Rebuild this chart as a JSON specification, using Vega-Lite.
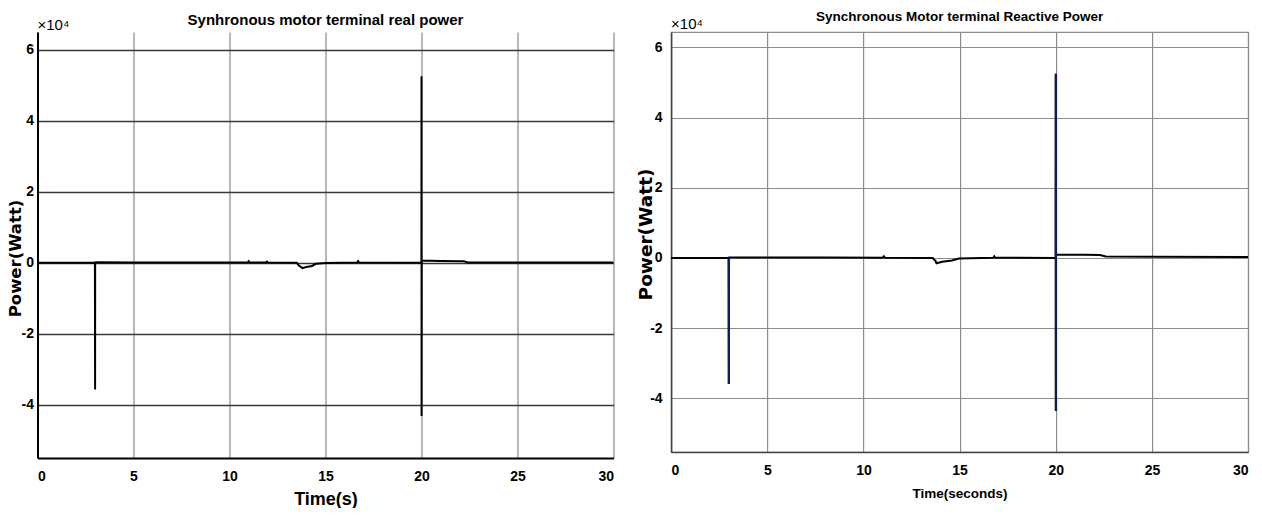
{
  "$schema": "https://vega.github.io/schema/vega-lite/v6.json",
  "background": "white",
  "padding": {"left": 6.5, "top": 9, "right": 0, "bottom": 0},
  "bounds": "flush",
  "spacing": 57.6,
  "config": {
    "view": {"stroke": null},
    "font": "Liberation Sans",
    "title": {"font": "Liberation Sans", "fontWeight": "bold", "color": "black", "anchor": "middle", "baseline": "alphabetic"}
  },
  "datasets": {
    "realPower": [
      {"t": 0, "p": 0}, {"t": 2.99, "p": 0}, {"t": 3.0, "p": -35700}, {"t": 3.003, "p": -300},
      {"t": 3.02, "p": 150}, {"t": 5, "p": 100}, {"t": 8, "p": 80}, {"t": 10.95, "p": 60},
      {"t": 11.0, "p": 450}, {"t": 11.05, "p": 60}, {"t": 11.9, "p": 80}, {"t": 11.95, "p": 300},
      {"t": 12.0, "p": 60}, {"t": 13.5, "p": 0}, {"t": 13.6, "p": -700}, {"t": 13.8, "p": -1500},
      {"t": 14.0, "p": -1200}, {"t": 14.3, "p": -900}, {"t": 14.5, "p": -300}, {"t": 15, "p": -100},
      {"t": 16.65, "p": 50}, {"t": 16.7, "p": 450}, {"t": 16.75, "p": 50}, {"t": 19.995, "p": 0},
      {"t": 20.0, "p": 52500}, {"t": 20.004, "p": -43200}, {"t": 20.01, "p": 600}, {"t": 21, "p": 500},
      {"t": 22.2, "p": 450}, {"t": 22.4, "p": 100}, {"t": 25, "p": 80}, {"t": 30, "p": 60}
    ],
    "reactivePower": [
      {"t": 0, "p": 0}, {"t": 2.99, "p": 0}, {"t": 3.0, "p": -35900}, {"t": 3.003, "p": -200},
      {"t": 3.02, "p": 150}, {"t": 5, "p": 120}, {"t": 8, "p": 100}, {"t": 11.0, "p": 60},
      {"t": 11.06, "p": 450}, {"t": 11.12, "p": 60}, {"t": 13.6, "p": 0}, {"t": 13.75, "p": -900},
      {"t": 13.8, "p": -1500}, {"t": 14.1, "p": -1100}, {"t": 14.6, "p": -700}, {"t": 14.96, "p": -150},
      {"t": 16.75, "p": 50}, {"t": 16.8, "p": 450}, {"t": 16.85, "p": 50}, {"t": 19.995, "p": 0},
      {"t": 20.0, "p": 52500}, {"t": 20.004, "p": -43600}, {"t": 20.01, "p": 900}, {"t": 21.5, "p": 950},
      {"t": 22.3, "p": 850}, {"t": 22.6, "p": 400}, {"t": 25, "p": 350}, {"t": 30, "p": 300}
    ],
    "reactiveSpikes": [
      {"t": 2.999, "p": 0, "s": "a"}, {"t": 3.0, "p": -35900, "s": "a"}, {"t": 3.003, "p": -200, "s": "a"},
      {"t": 19.999, "p": 0, "s": "b"}, {"t": 20.0, "p": 52500, "s": "b"}, {"t": 20.004, "p": -43600, "s": "b"}
    ],
    "leftMultiplier": [{"t": 0, "p": 65000, "label": "×10⁴"}],
    "rightMultiplier": [{"t": 0, "p": 64400, "label": "×10⁴"}]
  },
  "hconcat": [
    {
      "width": 576,
      "height": 426,
      "title": {"text": "Synhronous motor terminal real power", "fontSize": 15, "offset": -9.7},
      "layer": [
        {
          "data": {"name": "realPower"},
          "mark": {"type": "line", "color": "black", "strokeWidth": 2, "clip": true},
          "encoding": {
            "x": {
              "field": "t", "type": "quantitative",
              "scale": {"domain": [0, 30], "nice": false, "zero": false},
              "axis": {
                "values": [0, 5, 10, 15, 20, 25, 30], "title": "Time(s)",
                "titleFont": "Liberation Sans", "titleFontSize": 18, "titleFontWeight": "bold", "titleColor": "black", "titlePadding": 7,
                "labelFont": "Liberation Sans", "labelFontSize": 14, "labelFontWeight": "bold", "labelColor": "black", "labelPadding": 11,
                "ticks": false, "domainColor": "black", "domainWidth": 2,
                "grid": true, "gridColor": "#a0a0a0", "gridWidth": 1.5
              }
            },
            "y": {
              "field": "p", "type": "quantitative",
              "scale": {"domain": [-55000, 65000], "nice": false, "zero": false},
              "axis": {
                "values": [-40000, -20000, 0, 20000, 40000, 60000], "labelExpr": "datum.value / 10000",
                "title": "Power(Watt)", "titleFont": "DejaVu Sans", "titleFontSize": 16.5, "titleFontWeight": "bold", "titleColor": "black", "titlePadding": -2, "titleY": 226,
                "labelFont": "Liberation Sans", "labelFontSize": 14, "labelFontWeight": "bold", "labelColor": "black", "labelPadding": 4,
                "ticks": false, "domainColor": "black", "domainWidth": 2,
                "grid": true, "gridColor": "#3a3a3a", "gridWidth": 1.5
              }
            }
          }
        },
        {
          "data": {"name": "leftMultiplier"},
          "mark": {"type": "text", "align": "left", "baseline": "bottom", "font": "Liberation Sans", "fontSize": 15, "color": "black", "dy": 1},
          "encoding": {
            "x": {"field": "t", "type": "quantitative"},
            "y": {"field": "p", "type": "quantitative"},
            "text": {"field": "label"}
          }
        }
      ]
    },
    {
      "width": 577,
      "height": 420,
      "title": {"text": "Synchronous Motor terminal Reactive Power", "fontSize": 13.5, "offset": -6.4},
      "view": {"stroke": "#8c8c8c", "strokeWidth": 1.2},
      "layer": [
        {
          "data": {"name": "reactivePower"},
          "mark": {"type": "line", "color": "black", "strokeWidth": 2, "clip": true},
          "encoding": {
            "x": {
              "field": "t", "type": "quantitative",
              "scale": {"domain": [0, 30], "nice": false, "zero": false},
              "axis": {
                "values": [0, 5, 10, 15, 20, 25, 30], "title": "Time(seconds)",
                "titleFont": "Liberation Sans", "titleFontSize": 13.5, "titleFontWeight": "bold", "titleColor": "black", "titlePadding": 9,
                "labelFont": "Liberation Sans", "labelFontSize": 14, "labelFontWeight": "bold", "labelColor": "black", "labelPadding": 11,
                "ticks": false, "domainColor": "#444444", "domainWidth": 1.5,
                "grid": true, "gridColor": "#8c8c8c", "gridWidth": 1.2
              }
            },
            "y": {
              "field": "p", "type": "quantitative",
              "scale": {"domain": [-55300, 64400], "nice": false, "zero": false},
              "axis": {
                "values": [-40000, -20000, 0, 20000, 40000, 60000], "labelExpr": "datum.value / 10000",
                "title": "Power(Watt)", "titleFont": "DejaVu Sans", "titleFontSize": 18.5, "titleFontWeight": "bold", "titleColor": "black", "titlePadding": -6, "titleY": 202,
                "labelFont": "Liberation Sans", "labelFontSize": 14, "labelFontWeight": "bold", "labelColor": "black", "labelPadding": 9,
                "ticks": false, "domainColor": "#444444", "domainWidth": 1.5,
                "grid": true, "gridColor": "#8c8c8c", "gridWidth": 1.2
              }
            }
          }
        },
        {
          "data": {"name": "reactiveSpikes"},
          "mark": {"type": "line", "color": "#0b1f5e", "strokeWidth": 2, "clip": true},
          "encoding": {
            "x": {"field": "t", "type": "quantitative"},
            "y": {"field": "p", "type": "quantitative"},
            "detail": {"field": "s"}
          }
        },
        {
          "data": {"name": "rightMultiplier"},
          "mark": {"type": "text", "align": "left", "baseline": "bottom", "font": "Liberation Sans", "fontSize": 15, "color": "black", "dy": 0},
          "encoding": {
            "x": {"field": "t", "type": "quantitative"},
            "y": {"field": "p", "type": "quantitative"},
            "text": {"field": "label"}
          }
        }
      ]
    }
  ]
}
